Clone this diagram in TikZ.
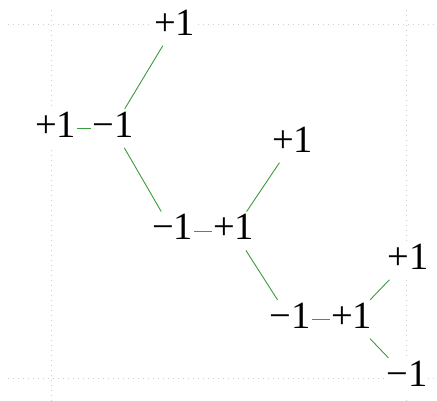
\documentclass[tikz,border=0pt]{standalone}
\usepackage{fontspec}
\setmainfont{Liberation Serif}
\definecolor{edgegreen}{RGB}{60,155,60}
\definecolor{gridgray}{RGB}{205,205,205}
\usepackage{tikz}
\usetikzlibrary{positioning}

\begin{document}
\begin{tikzpicture}[
    x=1pt, y=-1pt,
    spin/.style={fill=white, inner sep=1pt, text height=27pt, text depth=9.5pt, font=\fontsize{38.5}{40}\selectfont},
    bond/.style={draw=edgegreen, line width=0.9pt},
    gridline/.style={draw=gridgray, line width=0.9pt, dash pattern=on 1pt off 4pt},
]
    \useasboundingbox (0,0) rectangle (437,401);
    % dotted guide lines
    \draw[gridline] (8,24) -- (437,24);
    \draw[gridline] (8,378) -- (437,378);
    \draw[gridline] (51,10) -- (51,401);
    \draw[gridline] (406,10) -- (406,401);

    \node[spin] (ta) at (174.5,26.3) {+1};
    \node[spin] (la) at (55.5,128.3) {+1};
    \node[spin] (lb) at (113,128.3) {−1};
    \node[spin] (ma) at (292.5,143.3) {+1};
    \node[spin] (mb) at (172.5,231) {−1};
    \node[spin] (mc) at (233.5,231) {+1};
    \node[spin] (ra) at (408,260.3) {+1};
    \node[spin] (rb) at (290,319.3) {−1};
    \node[spin] (rc) at (351.5,319.3) {+1};
    \node[spin] (rd) at (407,377.3) {−1};

    \draw[bond] (la) -- (lb);
    \draw[bond] (lb) -- (ta);
    \draw[bond] (lb) -- (mb);
    \draw[bond] (mb) -- (mc);
    \draw[bond] (mc) -- (ma);
    \draw[bond] (mc) -- (rb);
    \draw[bond] (rb) -- (rc);
    \draw[bond] (rc) -- (ra);
    \draw[bond] (rc) -- (rd);
\end{tikzpicture}
\end{document}
